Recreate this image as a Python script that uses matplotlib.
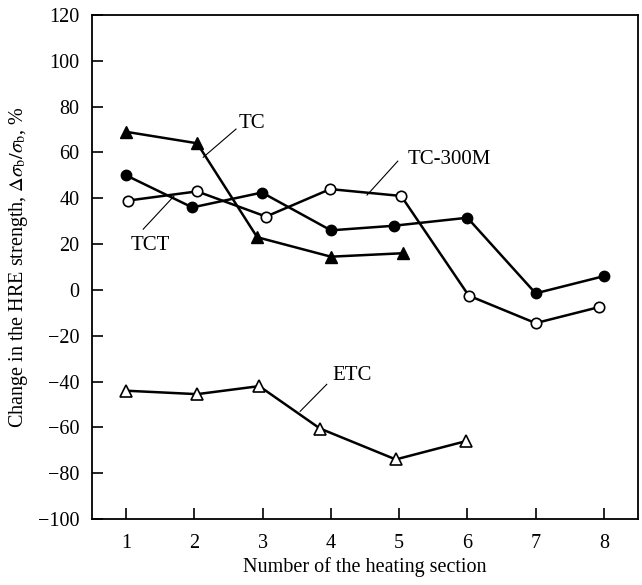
import matplotlib
matplotlib.use("Agg")
import matplotlib.pyplot as plt

plt.rcParams['font.family'] = ['Liberation Serif', 'DejaVu Serif']
plt.rcParams['mathtext.fontset'] = 'stix'

# heating sections (markers sit slightly off the integer positions in the source)
tc_x = [1.0, 2.04, 2.92, 4.0, 5.05]
tc_y = [69, 64, 23, 14.5, 16]

tct_x = [1.0, 1.97, 2.99, 4.0, 4.92, 6.0, 7.0, 8.0]
tct_y = [50, 36, 42.5, 26, 28, 31.5, -1.5, 6]

tc300_x = [1.03, 2.04, 3.05, 3.99, 5.03, 6.02, 7.0, 7.93]
tc300_y = [39, 43, 32, 44, 41, -2.5, -14.5, -7.5]

etc_x = [1.0, 2.04, 2.95, 3.84, 4.95, 5.98]
etc_y = [-44, -45.5, -42, -60.5, -74, -66]

xticks = [1, 2, 3, 4, 5, 6, 7, 8]
yticks = list(range(-100, 121, 20))

fig = plt.figure(figsize=(6.42, 5.85), dpi=100)
ax = fig.add_axes([0.1433, 0.1128, 0.8505, 0.8616])

lw = 1.8
ax.plot(tc_x, tc_y, '-^', color='black', lw=lw, markersize=8,
        markerfacecolor='black', markeredgecolor='black')
ax.plot(tct_x, tct_y, '-o', color='black', lw=lw, markersize=7.5,
        markerfacecolor='black', markeredgecolor='black')
ax.plot(tc300_x, tc300_y, '-o', color='black', lw=lw, markersize=7.5,
        markerfacecolor='white', markeredgecolor='black', markeredgewidth=1.2)
ax.plot(etc_x, etc_y, '-^', color='black', lw=lw, markersize=8.5,
        markerfacecolor='white', markeredgecolor='black', markeredgewidth=1.2)

# labels with leader lines
labels = [
    ('TC', (2.85, 72.8), (2.61, 70.2), (2.13, 57.9)),
    ('TCT', (1.35, 19.5), (1.25, 26.5), (1.70, 40.9)),
    ('TC-300M', (5.73, 57.1), (4.98, 56.2), (4.53, 41.4)),
    ('ETC', (4.31, -37.2), (3.94, -41.2), (3.55, -53.0)),
]
for text, pos, p0, p1 in labels:
    ax.text(pos[0], pos[1], text, fontsize=15, ha='center', va='center')
    ax.plot([p0[0], p1[0]], [p0[1], p1[1]], color='black', lw=0.8)

ax.set_xlim(0.5, 8.5)
ax.set_ylim(-100, 120)
ax.set_xticks(xticks)
ax.set_yticks(yticks)
ax.tick_params(direction='in', length=8, width=1.2, labelsize=14.5)
ax.tick_params(axis='x', pad=11)
ax.tick_params(axis='y', pad=9)
for s in ax.spines.values():
    s.set_linewidth(1.3)

ax.set_xlabel('Number of the heating section', fontsize=14.5, labelpad=3)
ax.set_ylabel(r'Change in the HRE strength, $\Delta\sigma_{\mathrm{b}}/\sigma_{\mathrm{b}}$, %',
              fontsize=14.5, labelpad=6)

fig.savefig('out.png', dpi=100)
